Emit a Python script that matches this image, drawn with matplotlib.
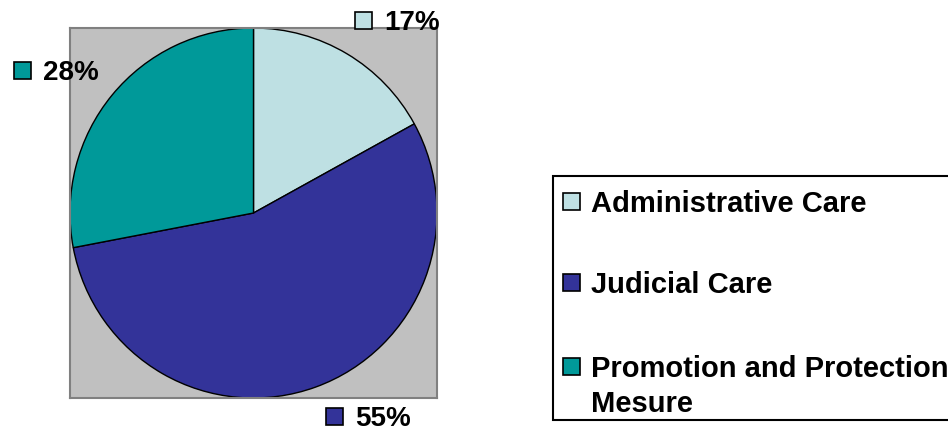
import matplotlib.pyplot as plt
from matplotlib.patches import Rectangle

# Data
categories = ["Administrative Care", "Judicial Care", "Promotion and Protection", "Mesure"]
shares = [17, 55, 28]
labels = ["17%", "55%", "28%"]
colors = ["#BEE0E3", "#333399", "#009999"]

plt.rcParams["font.family"] = ["Liberation Sans", "DejaVu Sans"]

W, H = 948, 432
fig = plt.figure(figsize=(W / 100, H / 100), dpi=100)

# plot area (gray square) in pixel coordinates
px_left, px_top, px_right, px_bottom = 70, 28, 437, 398
ax = fig.add_axes([px_left / W, 1 - px_bottom / H,
                   (px_right - px_left) / W, (px_bottom - px_top) / H])
wedges, _ = ax.pie(shares, colors=colors, startangle=90, counterclock=False,
                   radius=1.0, wedgeprops=dict(edgecolor="black", linewidth=1.0))
for w in wedges:
    w.set_clip_on(False)
ax.set_frame_on(True)
ax.set_facecolor("#C0C0C0")
ax.patch.set_visible(True)
ax.set_xlim(-1.0, 1.0)
ax.set_ylim(-1.0, 1.0)
ax.set_aspect("auto")
ax.set_xticks([])
ax.set_yticks([])
for s in ax.spines.values():
    s.set_visible(True)
    s.set_color("#808080")
    s.set_linewidth(1.5)

# overlay in pixel coordinates for labels and legend
ov = fig.add_axes([0, 0, 1, 1], facecolor="none")
ov.set_xlim(0, W)
ov.set_ylim(H, 0)
ov.axis("off")

sq = 17

# data labels: (square left x, baseline y)
label_pos = [(355, 30), (326, 426), (14, 80)]
for (x, y), lab, col in zip(label_pos, labels, colors):
    ov.add_patch(Rectangle((x, y - sq - 1), sq, sq, facecolor=col,
                           edgecolor="black", linewidth=1.2))
    ov.text(x + sq + 12, y, lab, fontsize=20, fontweight="bold",
            va="baseline", ha="left")

# legend box
ov.add_patch(Rectangle((553, 176), 420, 244, facecolor="white",
                       edgecolor="black", linewidth=1.5))
leg_base = [212, 293, 377]
for y, cat, col in zip(leg_base, categories[:3], colors):
    ov.add_patch(Rectangle((563, y - sq - 2), sq, sq, facecolor=col,
                           edgecolor="black", linewidth=1.2))
    ov.text(591, y, cat, fontsize=21, fontweight="bold",
            va="baseline", ha="left")
ov.text(591, 412, categories[3], fontsize=21, fontweight="bold",
        va="baseline", ha="left")

fig.savefig("out.png", dpi=100)
